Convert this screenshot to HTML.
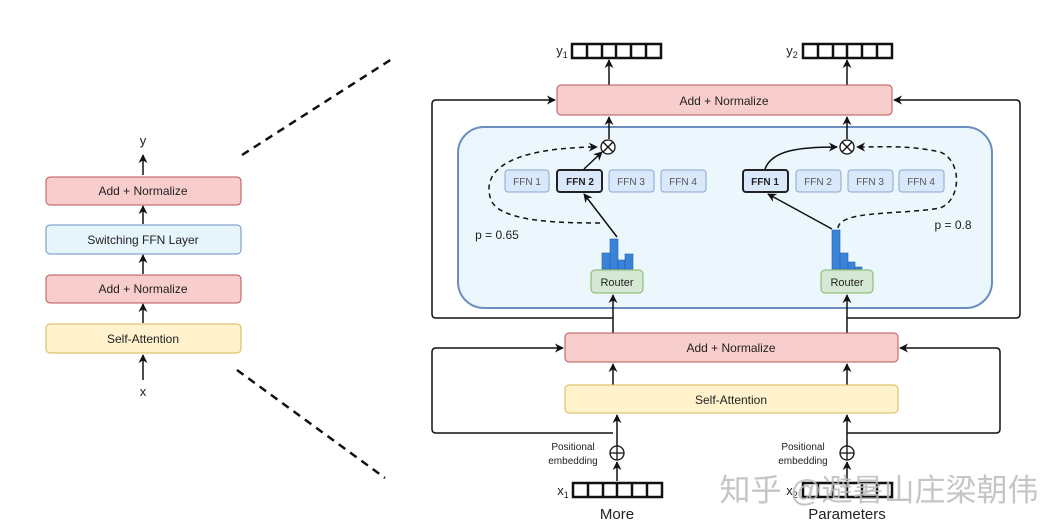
<!DOCTYPE html>
<html><head><meta charset="utf-8"><style>
html,body{margin:0;padding:0;background:#fff;}
svg{display:block;font-family:"Liberation Sans",sans-serif;}
</style></head><body>
<svg width="1057" height="532" viewBox="0 0 1057 532" xmlns="http://www.w3.org/2000/svg">
<defs>
<marker id="a" viewBox="0 0 10 10" refX="9" refY="5" markerWidth="6" markerHeight="6" orient="auto"><path d="M0,0 L10,5 L0,10 L3,5 z" fill="#111"/></marker>
</defs>
<g font-size="12" fill="#222" text-anchor="middle">
<text x="143" y="145" font-size="13">y</text>
<line x1="143" y1="175" x2="143" y2="155" stroke="#111" stroke-width="1.5" marker-end="url(#a)"/>
<rect x="46" y="177" width="195" height="28" rx="4" fill="#f8cecc" stroke="#b85450"/>
<text x="143" y="195">Add + Normalize</text>
<line x1="143" y1="224" x2="143" y2="206" stroke="#111" stroke-width="1.5" marker-end="url(#a)"/>
<rect x="46" y="225" width="195" height="29" rx="4" fill="#e6f4fb" stroke="#6c8ebf"/>
<text x="143" y="244">Switching FFN Layer</text>
<line x1="143" y1="274" x2="143" y2="255" stroke="#111" stroke-width="1.5" marker-end="url(#a)"/>
<rect x="46" y="275" width="195" height="28" rx="4" fill="#f8cecc" stroke="#b85450"/>
<text x="143" y="293">Add + Normalize</text>
<line x1="143" y1="323" x2="143" y2="304" stroke="#111" stroke-width="1.5" marker-end="url(#a)"/>
<rect x="46" y="324" width="195" height="29" rx="4" fill="#fff2cc" stroke="#d6b656"/>
<text x="143" y="343">Self-Attention</text>
<line x1="143" y1="380" x2="143" y2="355" stroke="#111" stroke-width="1.5" marker-end="url(#a)"/>
<text x="143" y="396" font-size="13">x</text>
<line x1="242" y1="155" x2="395" y2="57" stroke="#111" stroke-width="2.5" stroke-dasharray="8,6"/>
<line x1="237" y1="370" x2="385" y2="478" stroke="#111" stroke-width="2.5" stroke-dasharray="8,6"/>

<text x="562" y="55" font-size="13">y<tspan font-size="9" dy="3">1</tspan></text>
<g fill="none" stroke="#111" stroke-width="2.5">
<rect x="572" y="44" width="89" height="14"/>
<line x1="587" y1="44" x2="587" y2="58"/><line x1="602" y1="44" x2="602" y2="58"/><line x1="616" y1="44" x2="616" y2="58"/><line x1="631" y1="44" x2="631" y2="58"/><line x1="646" y1="44" x2="646" y2="58"/>
<rect x="803" y="44" width="89" height="14"/>
<line x1="818" y1="44" x2="818" y2="58"/><line x1="833" y1="44" x2="833" y2="58"/><line x1="847" y1="44" x2="847" y2="58"/><line x1="862" y1="44" x2="862" y2="58"/><line x1="877" y1="44" x2="877" y2="58"/>
</g>
<text x="792" y="55" font-size="13">y<tspan font-size="9" dy="3">2</tspan></text>
<line x1="609" y1="85" x2="609" y2="60" stroke="#111" stroke-width="1.5" marker-end="url(#a)"/>
<line x1="847" y1="85" x2="847" y2="60" stroke="#111" stroke-width="1.5" marker-end="url(#a)"/>

<rect x="557" y="85" width="335" height="30" rx="4" fill="#f8cecc" stroke="#b85450"/>
<text x="724" y="105">Add + Normalize</text>

<path d="M613,318 L436,318 Q432,318 432,314 L432,104 Q432,100 436,100 L555,100" fill="none" stroke="#111" stroke-width="1.5" marker-end="url(#a)"/>
<path d="M847,318 L1016,318 Q1020,318 1020,314 L1020,104 Q1020,100 1016,100 L894,100" fill="none" stroke="#111" stroke-width="1.5" marker-end="url(#a)"/>

<rect x="458" y="127" width="534" height="181" rx="26" fill="#ebf7fc" stroke="#6c8ebf" stroke-width="2"/>
<line x1="609" y1="139" x2="609" y2="117" stroke="#111" stroke-width="1.5" marker-end="url(#a)"/>
<line x1="847" y1="139" x2="847" y2="117" stroke="#111" stroke-width="1.5" marker-end="url(#a)"/>
<g fill="#fff" stroke="#111" stroke-width="1.3">
<circle cx="608" cy="147" r="7"/><circle cx="847" cy="147" r="7"/>
</g>
<path d="M603,142 L613,152 M613,142 L603,152 M842,142 L852,152 M852,142 L842,152" stroke="#111" stroke-width="1.3"/>

<g font-size="10" fill="#555">
<rect x="505" y="170" width="44" height="22" rx="3" fill="#dae8fc" stroke="#8aa6cf"/><text x="527" y="185" fill="#555">FFN 1</text>
<rect x="557" y="170" width="45" height="22" rx="3" fill="#dae8fc" stroke="#222" stroke-width="2"/><text x="580" y="185" fill="#222" font-weight="bold">FFN 2</text>
<rect x="609" y="170" width="45" height="22" rx="3" fill="#dae8fc" stroke="#8aa6cf"/><text x="631" y="185" fill="#555">FFN 3</text>
<rect x="661" y="170" width="45" height="22" rx="3" fill="#dae8fc" stroke="#8aa6cf"/><text x="683" y="185" fill="#555">FFN 4</text>
<rect x="743" y="170" width="45" height="22" rx="3" fill="#dae8fc" stroke="#222" stroke-width="2"/><text x="765" y="185" fill="#222" font-weight="bold">FFN 1</text>
<rect x="796" y="170" width="45" height="22" rx="3" fill="#dae8fc" stroke="#8aa6cf"/><text x="818" y="185" fill="#555">FFN 2</text>
<rect x="848" y="170" width="45" height="22" rx="3" fill="#dae8fc" stroke="#8aa6cf"/><text x="870" y="185" fill="#555">FFN 3</text>
<rect x="899" y="170" width="45" height="22" rx="3" fill="#dae8fc" stroke="#8aa6cf"/><text x="921" y="185" fill="#555">FFN 4</text>
</g>

<line x1="617" y1="237" x2="584" y2="194" stroke="#111" stroke-width="1.5" marker-end="url(#a)"/>
<line x1="584" y1="169" x2="602" y2="152" stroke="#111" stroke-width="1.5" marker-end="url(#a)"/>
<path d="M600,223 C560,223 500,222 491,200 C482,175 500,148 597,147" fill="none" stroke="#111" stroke-width="1.5" stroke-dasharray="5,4" marker-end="url(#a)"/>
<text x="497" y="239" font-size="12" fill="#222">p = 0.65</text>
<g fill="#3b82d9" stroke="#2060b0" stroke-width="0.6">
<rect x="602" y="253" width="8" height="16"/><rect x="610" y="239" width="8" height="30"/><rect x="618" y="260" width="7" height="9"/><rect x="625" y="254" width="8" height="15"/>
</g>
<rect x="591" y="270" width="52" height="23" rx="4" fill="#d5e8d4" stroke="#82b366"/>
<text x="617" y="286" font-size="11">Router</text>

<line x1="832" y1="229" x2="768" y2="194" stroke="#111" stroke-width="1.5" marker-end="url(#a)"/>
<path d="M765,169 C772,150 800,147 837,147" fill="none" stroke="#111" stroke-width="1.5" marker-end="url(#a)"/>
<path d="M838,228 C840,210 900,215 940,208 C962,200 962,160 940,152 C910,145 880,147 857,147" fill="none" stroke="#111" stroke-width="1.5" stroke-dasharray="5,4" marker-end="url(#a)"/>
<text x="953" y="229" font-size="12" fill="#222">p = 0.8</text>
<g fill="#3b82d9" stroke="#2060b0" stroke-width="0.6">
<rect x="832" y="230" width="8" height="39"/><rect x="840" y="253" width="8" height="16"/><rect x="848" y="262" width="7" height="7"/><rect x="855" y="267" width="7" height="2"/>
</g>
<rect x="821" y="270" width="52" height="23" rx="4" fill="#d5e8d4" stroke="#82b366"/>
<text x="847" y="286" font-size="11">Router</text>

<line x1="613" y1="333" x2="613" y2="295" stroke="#111" stroke-width="1.5" marker-end="url(#a)"/>
<line x1="847" y1="333" x2="847" y2="295" stroke="#111" stroke-width="1.5" marker-end="url(#a)"/>
<rect x="565" y="333" width="333" height="29" rx="4" fill="#f8cecc" stroke="#b85450"/>
<text x="731" y="352">Add + Normalize</text>
<line x1="613" y1="385" x2="613" y2="364" stroke="#111" stroke-width="1.5" marker-end="url(#a)"/>
<line x1="847" y1="385" x2="847" y2="364" stroke="#111" stroke-width="1.5" marker-end="url(#a)"/>
<rect x="565" y="385" width="333" height="28" rx="4" fill="#fff2cc" stroke="#d6b656"/>
<text x="731" y="404">Self-Attention</text>
<path d="M613,433 L436,433 Q432,433 432,429 L432,352 Q432,348 436,348 L563,348" fill="none" stroke="#111" stroke-width="1.5" marker-end="url(#a)"/>
<path d="M847,433 L996,433 Q1000,433 1000,429 L1000,352 Q1000,348 996,348 L900,348" fill="none" stroke="#111" stroke-width="1.5" marker-end="url(#a)"/>
<line x1="617" y1="446" x2="617" y2="415" stroke="#111" stroke-width="1.5" marker-end="url(#a)"/>
<line x1="847" y1="446" x2="847" y2="415" stroke="#111" stroke-width="1.5" marker-end="url(#a)"/>
<g fill="#fff" stroke="#111" stroke-width="1.3">
<circle cx="617" cy="453" r="7"/><circle cx="847" cy="453" r="7"/>
</g>
<path d="M610,453 L624,453 M617,446 L617,460 M840,453 L854,453 M847,446 L847,460" stroke="#111" stroke-width="1.3"/>
<line x1="617" y1="481" x2="617" y2="462" stroke="#111" stroke-width="1.5" marker-end="url(#a)"/>
<line x1="847" y1="481" x2="847" y2="462" stroke="#111" stroke-width="1.5" marker-end="url(#a)"/>
<text x="573" y="450" font-size="10">Positional</text>
<text x="573" y="464" font-size="10">embedding</text>
<text x="803" y="450" font-size="10">Positional</text>
<text x="803" y="464" font-size="10">embedding</text>

<text x="563" y="495" font-size="13">x<tspan font-size="9" dy="3">1</tspan></text>
<g fill="none" stroke="#111" stroke-width="2.5">
<rect x="573" y="483" width="89" height="14"/>
<line x1="588" y1="483" x2="588" y2="497"/><line x1="603" y1="483" x2="603" y2="497"/><line x1="617" y1="483" x2="617" y2="497"/><line x1="632" y1="483" x2="632" y2="497"/><line x1="647" y1="483" x2="647" y2="497"/>
<rect x="803" y="483" width="89" height="14"/>
<line x1="818" y1="483" x2="818" y2="497"/><line x1="833" y1="483" x2="833" y2="497"/><line x1="847" y1="483" x2="847" y2="497"/><line x1="862" y1="483" x2="862" y2="497"/><line x1="877" y1="483" x2="877" y2="497"/>
</g>
<text x="792" y="495" font-size="13">x<tspan font-size="9" dy="3">2</tspan></text>
<text x="617" y="519" font-size="15">More</text>
<text x="847" y="519" font-size="15">Parameters</text>
<text x="879" y="501" font-size="31" fill="#bbb" fill-opacity="0.85" font-family="'Liberation Sans','Noto Sans CJK SC',sans-serif">知乎 @避暑山庄梁朝伟</text>
</g>
</svg>
</body></html>
